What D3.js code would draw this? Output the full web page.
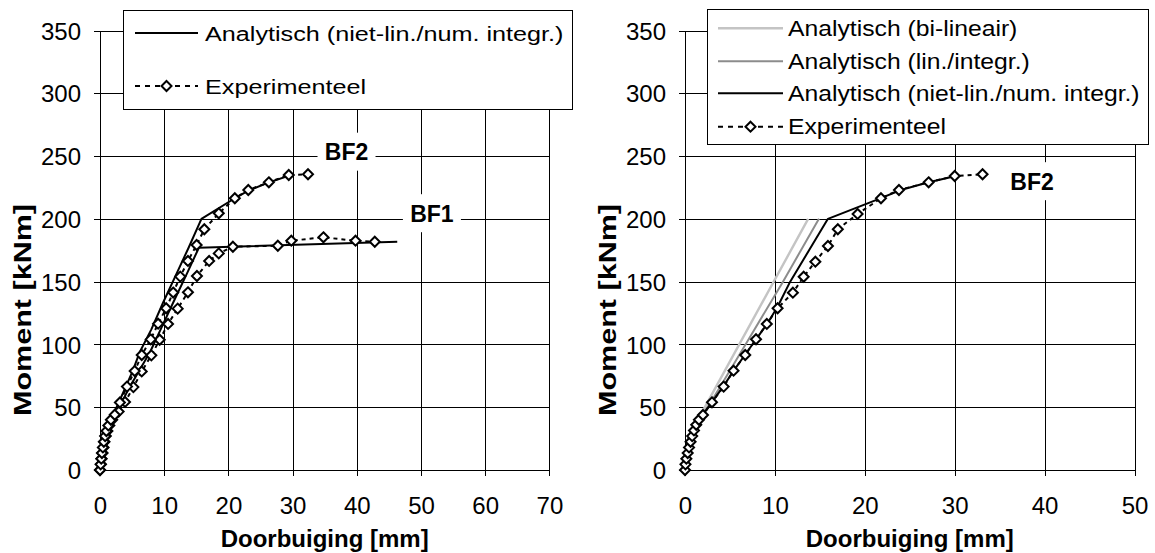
<!DOCTYPE html>
<html>
<head>
<meta charset="utf-8">
<script src="https://cdn.jsdelivr.net/npm/d3@7/dist/d3.min.js"></script>
<style>
  html, body { margin: 0; padding: 0; background: #fff; }
  svg { display: block; }
  text { font-family: "Liberation Sans", Arial, Helvetica, sans-serif; fill: #000; }
</style>
</head>
<body>
<svg id="chart" width="1155" height="553"></svg>
<script>
// ---- axis ticks and titles ----
const yTickValues = [0, 50, 100, 150, 200, 250, 300, 350];
const xTickValuesLeft = [0, 10, 20, 30, 40, 50, 60, 70];
const xTickValuesRight = [0, 10, 20, 30, 40, 50];
const xTitle = "Doorbuiging [mm]";
const yTitle = "Moment [kNm]";

// ---- left panel: beams BF1 and BF2, deflection [mm] vs moment [kNm] ----
const bf1Experimental = [
  [0, 0], [0.15, 4.5], [0.25, 9], [0.4, 13.5], [0.55, 18], [0.7, 22.5], [0.9, 27],
  [1.15, 31], [1.45, 35.5], [1.9, 40], [2.9, 46.5], [3.9, 54.2], [5.2, 66],
  [6.5, 78.5], [8.0, 91.3], [9.3, 103.7], [10.6, 116.3], [12.1, 128.5], [13.7, 141.5],
  [15.1, 154.5], [17.0, 166.5], [18.5, 172.5], [20.7, 177.8], [27.7, 178.6],
  [29.8, 182.6], [34.8, 185.3], [39.8, 182.6], [42.8, 181.8]
];
const bf2Experimental = [
  [0, 0], [0.1, 4.5], [0.2, 9], [0.3, 13.5], [0.45, 18], [0.6, 22.5], [0.8, 27],
  [1.0, 31], [1.3, 35.5], [1.7, 40], [2.3, 44], [3.1, 53.8], [4.2, 66.4], [5.4, 78.8],
  [6.5, 91.6], [7.9, 104], [9.05, 116.5], [10.3, 128.8], [11.4, 141.3], [12.5, 154],
  [13.7, 166.5], [15.05, 179.2], [16.25, 191.7], [18.5, 204.4], [21.0, 216.4],
  [23.1, 223], [26.3, 229.1], [29.4, 234.9], [32.4, 235.5]
];
const bf1Analytical = [
  [0, 0], [0.4, 26], [0.9, 32], [1.6, 38], [2.9, 49], [4.5, 65], [6.1, 79], [7.8, 94],
  [9.45, 112], [11.55, 135], [13.5, 156], [15.4, 177], [46.3, 181.8]
];
const bf2Analytical = [
  [0, 0], [0.4, 26], [0.9, 32], [1.5, 38], [2.5, 49], [3.9, 65], [5.1, 79], [6.2, 94],
  [8.0, 112], [9.8, 133], [11.8, 155], [13.8, 177], [15.8, 200], [21.0, 216.4],
  [23.1, 222.5], [26.3, 229], [29.8, 235]
];

// ---- right panel: beam BF2, three analytical models ----
const bf2ExperimentalR = [
  [0, 0], [0.05, 4.5], [0.15, 9], [0.3, 13.5], [0.45, 18], [0.62, 22.5], [0.8, 27],
  [1.0, 31.5], [1.25, 36], [1.55, 40], [2.0, 43.8], [3.0, 53.9], [4.3, 66.4],
  [5.4, 79.1], [6.7, 91.6], [7.9, 104.1], [9.1, 116.3], [10.3, 128.8], [12.0, 141.2],
  [13.2, 153.9], [14.5, 165.9], [15.9, 178.4], [17.0, 191.7], [19.2, 203.9],
  [21.8, 216.4], [23.8, 223], [27.1, 229.1], [30.0, 234.1], [33.1, 235.5]
];
const bf2BiLinear = [[0, 0], [0.9, 33], [13.7, 200]];
const bf2LinIntegr = [
  [0, 0], [0.6, 30], [1.5, 40], [2.7, 52], [4.4, 72], [6.9, 102], [10.9, 150], [14.9, 200]
];
const bf2NonLinR = [
  [0, 0], [0.45, 27], [1.0, 34], [1.8, 42], [3.0, 54], [4.3, 67], [5.5, 80], [6.8, 93],
  [8.0, 105], [9.2, 117], [10.3, 130], [11.7, 150], [13.8, 175], [15.9, 200],
  [21.8, 216.5], [24.0, 223], [27.0, 229], [30.0, 234]
];

// ---- legend entries and beam labels ----
const legendLeft = ["Analytisch (niet-lin./num. integr.)", "Experimenteel"];
const legendRight = ["Analytisch (bi-lineair)", "Analytisch (lin./integr.)",
                     "Analytisch (niet-lin./num. integr.)", "Experimenteel"];
const labelsLeft = [{ text: "BF2", at: [38.4, 253.5] }, { text: "BF1", at: [51.7, 204.5] }];
const labelsRight = [{ text: "BF2", at: [38.6, 230] }];

// ---- line styles ----
const styles = {
  nonlin: { stroke: "#000", width: 2 },
  lin: { stroke: "#8c8c8c", width: 2 },
  bilin: { stroke: "#c4c4c4", width: 2.4 },
  exp: { stroke: "#000", width: 2, dash: "4,4" }
};

const svg = d3.select("#chart");
const TOP = 30.5, BOTTOM = 470;
const y = d3.scaleLinear().domain([0, 350]).range([BOTTOM, TOP]);

function diamondPath(r) {
  return `M0,${-r}L${r},0L0,${r}L${-r},0Z`;
}

function drawPanel(cfg) {
  const g = svg.append("g");
  const x = d3.scaleLinear().domain([0, cfg.xMax]).range([cfg.x0, cfg.x1]);
  const w = cfg.x1 - cfg.x0, h = BOTTOM - TOP;

  // horizontal grid + y axis
  const ya = g.append("g").attr("transform", `translate(${cfg.x0},0)`)
    .call(d3.axisLeft(y).tickValues(yTickValues).tickSizeInner(-w).tickSizeOuter(0).tickPadding(19));
  ya.selectAll(".tick line").attr("x1", -6).attr("stroke", "#000").attr("shape-rendering", "crispEdges");
  ya.select(".domain").attr("stroke", "#000").attr("shape-rendering", "crispEdges");
  ya.selectAll(".tick text").attr("font-size", 24).attr("dy", "0.36em")
    .style("font-family", "'Liberation Sans', Arial, sans-serif");

  // vertical grid + x axis
  const xa = g.append("g").attr("transform", `translate(0,${BOTTOM})`)
    .call(d3.axisBottom(x).tickValues(cfg.xTicks).tickSizeInner(-h).tickSizeOuter(0).tickPadding(27));
  xa.selectAll(".tick line").attr("y1", 6).attr("stroke", "#000").attr("shape-rendering", "crispEdges");
  xa.select(".domain").attr("stroke", "#000").attr("shape-rendering", "crispEdges");
  xa.selectAll(".tick text").attr("font-size", 24)
    .style("font-family", "'Liberation Sans', Arial, sans-serif");

  // axis titles
  g.append("text").attr("x", (cfg.x0 + cfg.x1) / 2).attr("y", 547)
    .attr("text-anchor", "middle").attr("font-size", 24).attr("font-weight", "bold")
    .text(xTitle);
  g.append("text")
    .attr("transform", `translate(${cfg.x0 - 69},310) rotate(-90)`)
    .attr("text-anchor", "middle").attr("font-size", 24).attr("font-weight", "bold")
    .attr("textLength", 212).attr("lengthAdjust", "spacingAndGlyphs")
    .text(yTitle);

  const line = d3.line().x(d => x(d[0])).y(d => y(d[1]));

  // analytical curves
  cfg.curves.forEach(c => {
    g.append("path").datum(c.data).attr("d", line).attr("fill", "none")
      .attr("stroke", c.style.stroke).attr("stroke-width", c.style.width)
      .attr("stroke-linejoin", "round");
  });

  // experimental series: dashed connector + open diamonds
  cfg.experiments.forEach(data => {
    g.append("path").datum(data).attr("d", line).attr("fill", "none")
      .attr("stroke", styles.exp.stroke).attr("stroke-width", styles.exp.width)
      .attr("stroke-dasharray", styles.exp.dash);
    g.append("g").selectAll("path").data(data).join("path")
      .attr("transform", d => `translate(${x(d[0])},${y(d[1])})`)
      .attr("d", diamondPath(5)).attr("fill", "#fff")
      .attr("stroke", "#000").attr("stroke-width", 2);
  });

  // beam labels on a white patch
  cfg.labels.forEach(l => {
    const cx = x(l.at[0]), cy = y(l.at[1]);
    g.append("rect").attr("x", cx - 29).attr("y", cy - 19).attr("width", 58).attr("height", 38)
      .attr("fill", "#fff");
    g.append("text").attr("x", cx).attr("y", cy + 8.5).attr("text-anchor", "middle")
      .attr("font-size", 23).attr("font-weight", "bold").text(l.text);
  });

  // legend
  const L = cfg.legend;
  const lg = svg.append("g");
  lg.append("rect").attr("x", L.box[0]).attr("y", L.box[1]).attr("width", L.box[2]).attr("height", L.box[3])
    .attr("fill", "#fff").attr("stroke", "#000").attr("stroke-width", 1).attr("shape-rendering", "crispEdges");
  L.items.forEach((it, i) => {
    const cy = L.rows[i];
    if (it.style === styles.exp) {
      lg.append("line").attr("x1", L.sample[0]).attr("x2", L.sample[1]).attr("y1", cy).attr("y2", cy)
        .attr("stroke", "#000").attr("stroke-width", 2).attr("stroke-dasharray", "5,5");
      lg.append("path").attr("transform", `translate(${(L.sample[0] + L.sample[1]) / 2},${cy})`)
        .attr("d", diamondPath(5)).attr("fill", "#fff").attr("stroke", "#000").attr("stroke-width", 2);
    } else {
      lg.append("line").attr("x1", L.sample[0]).attr("x2", L.sample[1]).attr("y1", cy).attr("y2", cy)
        .attr("stroke", it.style.stroke).attr("stroke-width", it.style.width);
    }
    lg.append("text")
      .attr("transform", `translate(${L.textX},${cy + L.fontSize * 0.358}) scale(${L.stretch},1)`)
      .attr("font-size", L.fontSize).text(it.name);
  });
}

drawPanel({
  x0: 100, x1: 549.4, xMax: 70, xTicks: xTickValuesLeft,
  curves: [
    { data: bf1Analytical, style: styles.nonlin },
    { data: bf2Analytical, style: styles.nonlin }
  ],
  experiments: [bf1Experimental, bf2Experimental],
  labels: labelsLeft,
  legend: {
    box: [123.5, 10.5, 449, 98.5], rows: [33, 86], sample: [135, 198], textX: 205,
    fontSize: 21, stretch: 1.2,
    items: [
      { name: legendLeft[0], style: styles.nonlin },
      { name: legendLeft[1], style: styles.exp }
    ]
  }
});

drawPanel({
  x0: 685, x1: 1134.5, xMax: 50, xTicks: xTickValuesRight,
  curves: [
    { data: bf2BiLinear, style: styles.bilin },
    { data: bf2LinIntegr, style: styles.lin },
    { data: bf2NonLinR, style: styles.nonlin }
  ],
  experiments: [bf2ExperimentalR],
  labels: labelsRight,
  legend: {
    box: [707.5, 9.5, 441, 134.5], rows: [28.3, 61.3, 93.3, 126.7], sample: [718, 783], textX: 788,
    fontSize: 21.5, stretch: 1.15,
    items: [
      { name: legendRight[0], style: styles.bilin },
      { name: legendRight[1], style: styles.lin },
      { name: legendRight[2], style: styles.nonlin },
      { name: legendRight[3], style: styles.exp }
    ]
  }
});
</script>
</body>
</html>
